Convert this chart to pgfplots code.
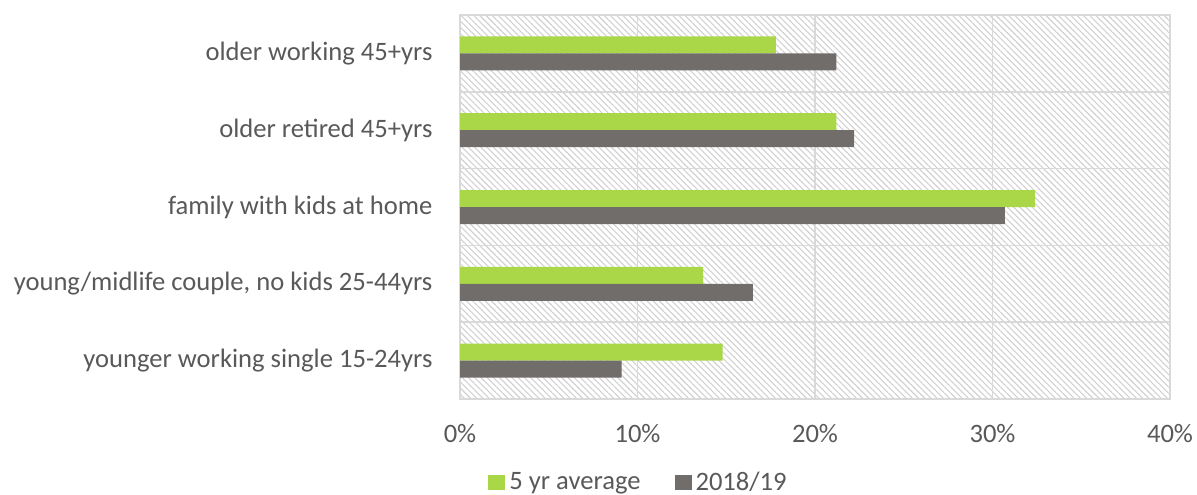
\documentclass[border=0pt]{standalone}
\usepackage{fontspec}
\setmainfont{Carlito}
\usepackage{pgfplots}
\pgfplotsset{compat=1.18}
\usetikzlibrary{patterns.meta}
\definecolor{lime}{RGB}{170,215,72}
\definecolor{dgray}{RGB}{113,109,107}
\definecolor{txt}{RGB}{89,89,89}
\definecolor{gridc}{RGB}{217,217,217}
\begin{document}
\begin{tikzpicture}
\begin{axis}[
  scale only axis, width=355pt, height=192pt,
  at={(230pt,47.5pt)}, anchor=south west,
  xbar, bar width=8.5pt,
  xmin=0, xmax=40, ymin=-0.5, ymax=4.5,
  /pgf/number format/assume math mode=true,
  xtick={0,10,20,30,40},
  xticklabel={\pgfmathprintnumber{\tick}\%},
  xmajorgrids,
  major grid style={gridc, line width=0.75pt},
  major x tick style={draw=none},
  ytick={0,1,2,3,4},
  yticklabels={younger working single 15-24yrs, {young/midlife couple, no kids 25-44yrs}, family with kids at home, older retired 45+yrs, older working 45+yrs},
  major y tick style={draw=none},
  extra y ticks={-0.5,0.5,1.5,2.5,3.5,4.5},
  extra y tick labels={},
  extra y tick style={grid=major, major tick length=3.5pt, tick align=outside, tick style={draw=gridc, line width=0.75pt}},
  ytick pos=left, xtick pos=bottom,
  axis line style={gridc, line width=0.75pt},
  axis background/.style={pattern={Lines[angle=-45,distance=2.2pt,line width=0.55pt]}, pattern color=black!18},
  tick label style={font=\fontsize{13.3}{16}\selectfont, text=txt},
  xticklabel style={yshift=-9pt},
  yticklabel style={xshift=-6pt},
  legend style={at={(0,0)}, anchor=west, xshift=11pt, yshift=-41.75pt, draw=none, fill=none,
    font=\fontsize{13.3}{16}\selectfont, text=txt, legend columns=2,
    /tikz/every even column/.append style={column sep=15pt}},
  legend image code/.code={\fill[#1] (0pt,-3.75pt) rectangle (8.5pt,3.75pt);},
]
\addplot[fill=lime, draw=none, bar shift=4.25pt] coordinates {(14.8,0) (13.7,1) (32.4,2) (21.2,3) (17.8,4)};
\addplot[fill=dgray, draw=none, bar shift=-4.25pt] coordinates {(9.1,0) (16.5,1) (30.7,2) (22.2,3) (21.2,4)};
\legend{5 yr average, 2018/19}
\end{axis}
\pgfresetboundingbox
\path (0,0) rectangle (598.5pt,247pt);
\end{tikzpicture}
\end{document}
